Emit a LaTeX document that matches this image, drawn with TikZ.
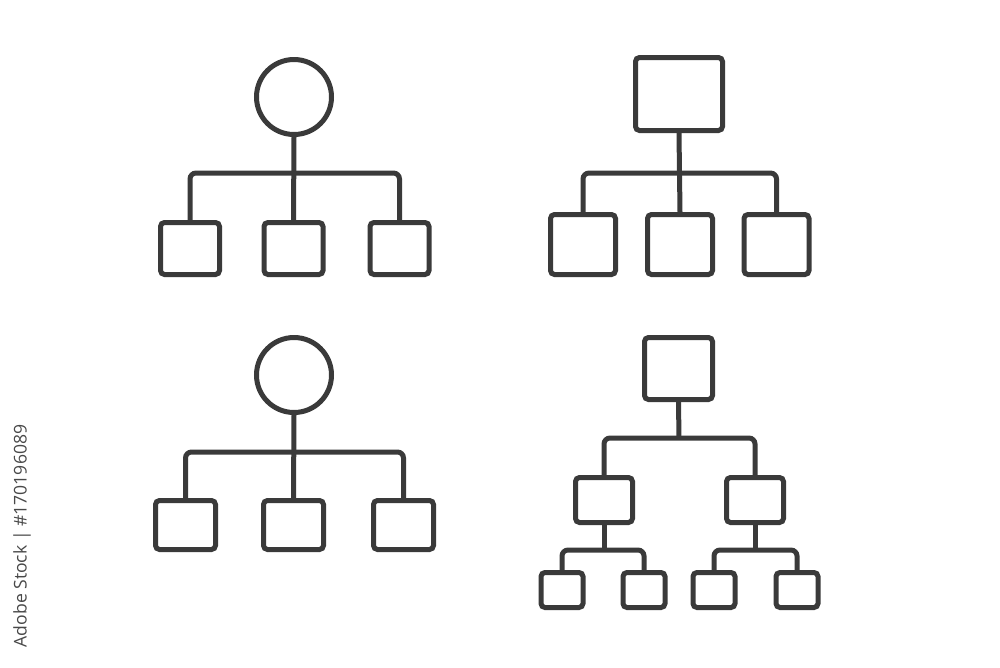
\documentclass[tikz,border=0pt]{standalone}
\usepackage{fontspec}
\setsansfont{Open Sans}
\usepackage{tikz}
\definecolor{linegray}{RGB}{58,58,58}
\definecolor{markgray}{RGB}{72,72,72}

\begin{document}
\begin{tikzpicture}[
x=0.25mm, y=-0.25mm,
roundnode/.style={circle, draw=linegray, line width=1.25mm, minimum size=18.75mm, inner sep=0pt},
boxnode/.style={rectangle, rounded corners=1mm, draw=linegray, line width=1.25mm, inner sep=0pt},
link/.style={draw=linegray, line width=1.25mm, rounded corners=1.5mm},
]
\useasboundingbox (0,0) rectangle (1000,667);

%Top left chart
\node[roundnode]      (tlroot)  at (294,97) {};
\node[boxnode, minimum width=14.75mm, minimum height=13mm] (tla) at (190,248.5) {};
\node[boxnode, minimum width=14.75mm, minimum height=13mm] (tlb) at (293.5,248.5) {};
\node[boxnode, minimum width=14.75mm, minimum height=13mm] (tlc) at (399.5,248.5) {};
\coordinate (tlj) at (294,173);

%Top right chart
\node[boxnode, minimum width=21.75mm, minimum height=18.25mm] (trroot) at (679,94) {};
\node[boxnode, minimum width=16.25mm, minimum height=15mm] (tra) at (583,244.5) {};
\node[boxnode, minimum width=16.25mm, minimum height=15mm] (trb) at (680,244.5) {};
\node[boxnode, minimum width=16.25mm, minimum height=15mm] (trc) at (776.5,244.5) {};
\coordinate (trj) at (679,173);

%Bottom left chart
\node[roundnode]      (blroot)  at (294,375) {};
\node[boxnode, minimum width=15mm, minimum height=12.25mm] (bla) at (185.5,525) {};
\node[boxnode, minimum width=15mm, minimum height=12.25mm] (blb) at (293.5,525) {};
\node[boxnode, minimum width=15mm, minimum height=12.25mm] (blc) at (403.5,525) {};
\coordinate (blj) at (294,452);

%Bottom right chart
\node[boxnode, minimum width=17mm, minimum height=15.5mm] (brroot) at (678.5,368.5) {};
\node[boxnode, minimum width=14.25mm, minimum height=11.25mm] (bra) at (604,500) {};
\node[boxnode, minimum width=14.25mm, minimum height=11.25mm] (brb) at (755,500) {};
\node[boxnode, minimum width=10.5mm, minimum height=8.75mm] (braa) at (562,590) {};
\node[boxnode, minimum width=10.5mm, minimum height=8.75mm] (brab) at (644,590) {};
\node[boxnode, minimum width=10.5mm, minimum height=8.75mm] (brba) at (714,590) {};
\node[boxnode, minimum width=10.5mm, minimum height=8.75mm] (brbb) at (797,590) {};
\coordinate (brj) at (679,438);
\coordinate (braj) at (604,550);
\coordinate (brbj) at (755,550);

%Stamp
\node[rotate=90, text=markgray, font=\sffamily\fontsize{12.5}{15}\selectfont] (stamp) at (22,536) {Adobe Stock | \#170196089};

%Lines
\draw[link] (tlroot.south) -- (tlb.north);
\draw[link] (tla.north) |- (tlj) -| (tlc.north);

\draw[link] (trroot.south) -- (trb.north);
\draw[link] (tra.north) |- (trj) -| (trc.north);

\draw[link] (blroot.south) -- (blb.north);
\draw[link] (bla.north) |- (blj) -| (blc.north);

\draw[link] (brroot.south) -- (brj);
\draw[link] (bra.north) |- (brj) -| (brb.north);
\draw[link] (bra.south) -- (braj);
\draw[link] (braa.north) |- (braj) -| (brab.north);
\draw[link] (brb.south) -- (brbj);
\draw[link] (brba.north) |- (brbj) -| (brbb.north);
\end{tikzpicture}
\end{document}
